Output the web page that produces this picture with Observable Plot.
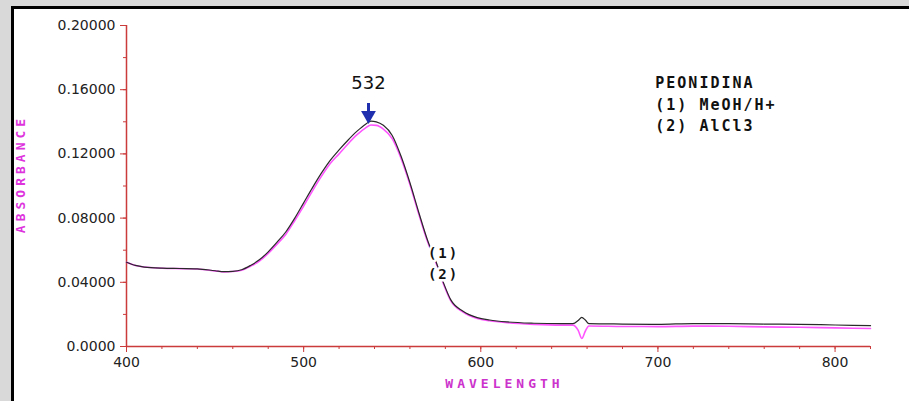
<!DOCTYPE html>
<html>
<head>
<meta charset="utf-8">
<script src="https://cdn.jsdelivr.net/npm/d3@7"></script>
<script src="https://cdn.jsdelivr.net/npm/@observablehq/plot@0.6"></script>
<style>
  html, body { margin: 0; padding: 0; width: 909px; height: 401px; overflow: hidden; background: #d9d9d9; }
  #frame { position: absolute; left: 11px; top: 6px; width: 898px; height: 395px; background: #ffffff;
           border-left: 3px solid #000; border-top: 3px solid #000; box-sizing: border-box; }
  #chart { position: absolute; left: 0; top: 0; }
</style>
</head>
<body>
<div id="frame"></div>
<div id="chart"></div>
<script>
// ---- data ----
const wavelengths = [400,405,410,420,430,440,450,455,460,465,470,475,480,485,490,495,500,505,510,515,520,525,530,535,538,541,545,550,555,560,565,570,575,579,583,590,598,605,615,630,645,652,655,657,659,661,680,700,720,740,760,780,800,820];
const meohAbs = [0.0525,0.0505,0.0495,0.0488,0.0486,0.0484,0.0472,0.0466,0.0468,0.0478,0.0505,0.0540,0.0590,0.0650,0.0715,0.0800,0.0895,0.0990,0.1080,0.1160,0.1225,0.1285,0.1340,0.1385,0.1404,0.1400,0.1378,0.1315,0.1185,0.1020,0.0835,0.0660,0.0520,0.0395,0.0292,0.0220,0.0180,0.0165,0.0153,0.0145,0.0142,0.0142,0.0162,0.0182,0.0165,0.0143,0.0140,0.0138,0.0143,0.0142,0.0140,0.0138,0.0134,0.0130];
const alcl3Abs = [0.0525,0.0505,0.0495,0.0488,0.0485,0.0483,0.0471,0.0465,0.0467,0.0475,0.0500,0.0532,0.0580,0.0638,0.0700,0.0785,0.0875,0.0970,0.1060,0.1140,0.1200,0.1262,0.1318,0.1362,0.1380,0.1378,0.1355,0.1295,0.1172,0.1010,0.0825,0.0652,0.0512,0.0388,0.0286,0.0215,0.0175,0.0160,0.0148,0.0138,0.0133,0.0133,0.0100,0.0050,0.0095,0.0128,0.0125,0.0124,0.0127,0.0126,0.0122,0.0120,0.0116,0.0112];

const xMajorTicks = [400, 500, 600, 700, 800];
const xMinorTicks = d3.range(400, 821, 20);
const yMajorTicks = [0, 0.04, 0.08, 0.12, 0.16, 0.20];
const yTickLabels = ["0.0000", "0.04000", "0.08000", "0.12000", "0.16000", "0.20000"];
const yMinorTicks = [0, 0.02, 0.04, 0.06, 0.08, 0.10, 0.12, 0.14, 0.16, 0.18, 0.20];

const xTitle = "WAVELENGTH";
const yTitle = "ABSORBANCE";
const legendLines = ["PEONIDINA", "(1) MeOH/H+", "(2) AlCl3"];
const legendX = 698.5;
const legendY = [0.1639, 0.1502, 0.1371];
const curveTags = ["(1)", "(2)"];
const curveTagX = 579;
const curveTagY = [0.0579, 0.0449];
const peakLabel = "532";
const peakLabelX = 536.6;
const peakLabelY = 0.1639;
const arrowShaft = [0.1514, 0.1458];
const arrowHeadY = 0.1440;

// ---- build tables ----
const s1 = wavelengths.map((w, i) => ({w, a: meohAbs[i]}));
const s2 = wavelengths.map((w, i) => ({w, a: alcl3Abs[i]}));

const red = "#cc3b3b";
const magenta = "#cc33cc";
const blue = "#1f2fae";
const mono = "DejaVu Sans Mono";

const svg = Plot.plot({
  width: 909,
  height: 401,
  marginLeft: 126,
  marginRight: 39,
  marginTop: 25,
  marginBottom: 55,
  style: {background: "transparent", fontFamily: "DejaVu Sans", fontSize: "14px", color: "#222"},
  x: {domain: [400, 820]},
  y: {domain: [0, 0.2]},
  marks: [
    Plot.ruleX([400], {y1: 0, y2: 0.2, stroke: red, strokeWidth: 1.5}),
    Plot.ruleY([0], {x1: 400, x2: 820, stroke: red, strokeWidth: 1.5}),
    Plot.axisY(yMinorTicks, {tickSize: 3, tickFormat: () => "", stroke: red, label: null}),
    Plot.axisY(yMajorTicks, {tickSize: 6, tickPadding: 5, tickFormat: d => yTickLabels[yMajorTicks.indexOf(d)], stroke: red, fill: "#222", fontSize: 14, label: null}),
    Plot.axisX(xMinorTicks, {tickSize: 3, tickFormat: () => "", stroke: red, label: null}),
    Plot.axisX(xMajorTicks, {tickSize: 6, tickPadding: 5, tickFormat: d => String(d), stroke: red, fill: "#222", fontSize: 14, label: null}),
    Plot.line(s2, {x: "w", y: "a", stroke: "#ff55ff", strokeWidth: 1.6, curve: "monotone-x"}),
    Plot.line(s1, {x: "w", y: "a", stroke: "#2a2a2a", strokeWidth: 1.2, curve: "monotone-x"}),
    Plot.text(curveTags, {x: curveTagX, y: (d, i) => curveTagY[i], text: d => d, fontFamily: mono, fontWeight: "bold", fontSize: 14, fill: "#111", stroke: "white", strokeWidth: 5}),
    Plot.text(legendLines, {x: legendX, y: (d, i) => legendY[i], text: d => d, textAnchor: "start", fontFamily: mono, fontWeight: "bold", fontSize: 15, fill: "#111"}),
    Plot.text([peakLabel], {x: peakLabelX, y: peakLabelY, text: d => d, fontSize: 18, fill: "#111"}),
    Plot.ruleX([peakLabelX], {y1: arrowShaft[0], y2: arrowShaft[1], stroke: blue, strokeWidth: 3}),
    Plot.dot([peakLabelX], {x: d => d, y: arrowHeadY, symbol: "triangle", rotate: 180, r: 5.5, fill: blue}),
    Plot.text([xTitle], {frameAnchor: "bottom", textAnchor: "middle", lineAnchor: "middle", dx: 6, dy: 37, text: d => d, fontFamily: mono, fontWeight: "bold", fontSize: 13, fill: magenta}),
    Plot.text([yTitle], {frameAnchor: "left", textAnchor: "middle", lineAnchor: "middle", rotate: -90, dx: -106, dy: -12, text: d => d, fontFamily: mono, fontWeight: "bold", fontSize: 13, fill: "#dd33dd"})
  ]
});

d3.select(svg).selectAll("text").each(function() {
  const t = this.textContent;
  if (t === xTitle || t === yTitle) d3.select(this).attr("letter-spacing", "4px");
  else if (legendLines.includes(t) || curveTags.includes(t)) d3.select(this).attr("letter-spacing", "2px");
});

document.getElementById("chart").appendChild(svg);
</script>
</body>
</html>
